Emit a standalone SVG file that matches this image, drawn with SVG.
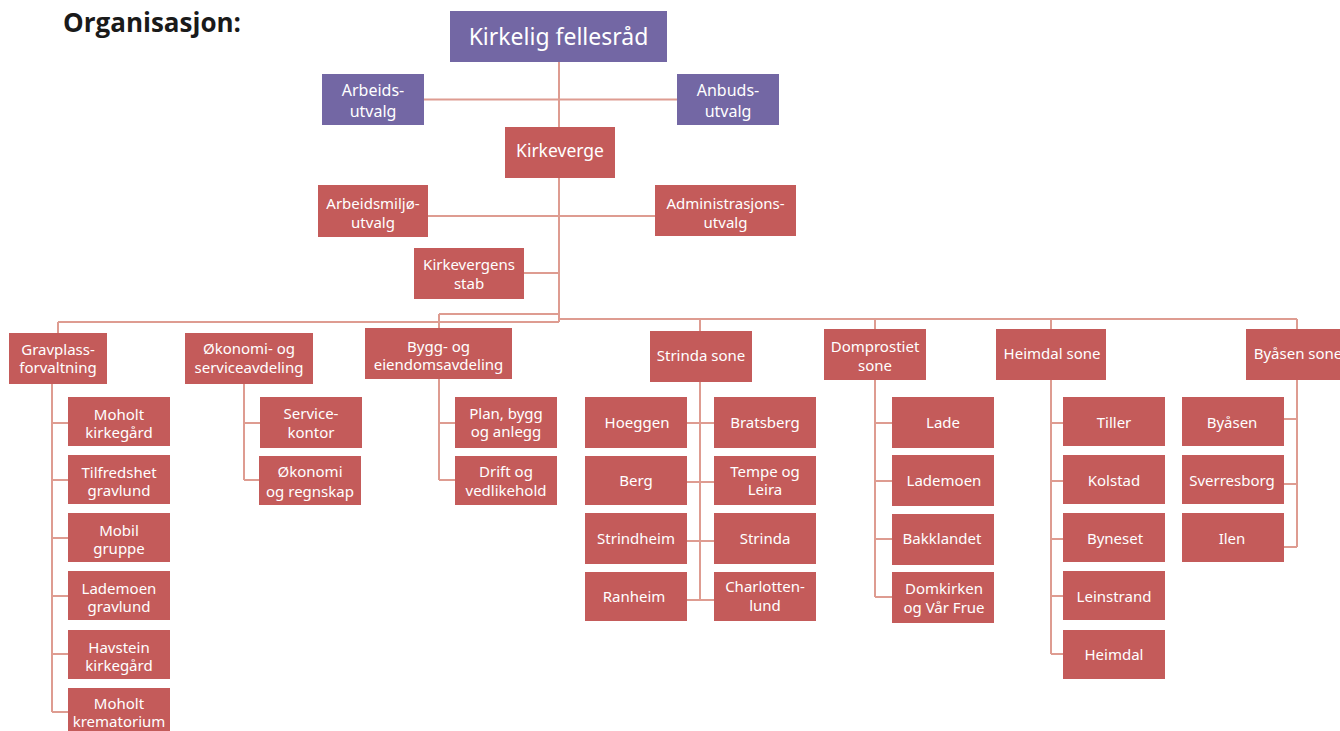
<svg xmlns="http://www.w3.org/2000/svg" width="1340" height="731" viewBox="0 0 1340 731">
<style>
.p{fill:#7367A4}
.r{fill:#C45B5A}
.t{fill:#FFFFFF;font-family:"Noto Sans","Open Sans",sans-serif;font-size:15px;text-anchor:middle}
.m{font-size:16px}
.c{stroke:#DE9C91;stroke-width:2;fill:none}
.h{font-family:"Open Sans","Noto Sans",sans-serif;font-weight:bold;font-size:26px;fill:#1a1a1a}
</style>
<rect width="1340" height="731" fill="#FFFFFF"/>
<text class="h" x="63" y="32">Organisasjon:</text>
<g id="connectors" class="c">
<path d="M559 62V322"/>
<path d="M424 99.5H677"/>
<path d="M428 216H655"/>
<path d="M524 273H559"/>
<path d="M58 322H559"/>
<path d="M58 322V333"/>
<path d="M439 314H559"/>
<path d="M439 314V328"/>
<path d="M559 319H1297"/>
<path d="M700 319V331"/>
<path d="M875 319V329"/>
<path d="M1051 319V329"/>
<path d="M1297 319V329"/>
<path d="M52 384V712M52 423H68M52 480H68M52 538H68M52 596H68M52 654H68M52 712H68"/>
<path d="M244 384V480M244 423H260M244 480H259"/>
<path d="M439 379V480M439 423H455M439 480H455"/>
<path d="M700 382V600M687 423H714M687 482H714M687 541H714M687 600H714"/>
<path d="M875 380V597M875 423H892M875 481H892M875 539H892M875 597H892"/>
<path d="M1051 380V654M1051 423H1063M1051 481H1063M1051 539H1063M1051 596H1063M1051 654H1063"/>
<path d="M1297 380V547M1284 419H1297M1284 484H1297M1284 547H1297"/>
</g>
<g id="n-fellesrad"><rect class="p" x="450" y="11" width="217" height="51"/><text class="t" x="558.5" y="45" style="font-size:23px">Kirkelig fellesråd</text></g>
<g id="n-arbeidsutvalg"><rect class="p" x="322" y="74" width="102" height="51"/><text class="t m" x="373" y="96">Arbeids-</text><text class="t m" x="373" y="117">utvalg</text></g>
<g id="n-anbudsutvalg"><rect class="p" x="677" y="74" width="102" height="51"/><text class="t m" x="728" y="96">Anbuds-</text><text class="t m" x="728" y="117">utvalg</text></g>
<g id="n-kirkeverge"><rect class="r" x="505" y="127" width="110" height="51"/><text class="t" x="560" y="157" style="font-size:17.5px">Kirkeverge</text></g>
<g id="n-amu"><rect class="r" x="318" y="185" width="110" height="52"/><text class="t" x="373" y="209">Arbeidsmiljø-</text><text class="t" x="373" y="228">utvalg</text></g>
<g id="n-adm"><rect class="r" x="655" y="185" width="141" height="51"/><text class="t" x="725.5" y="209">Administrasjons-</text><text class="t" x="725.5" y="228">utvalg</text></g>
<g id="n-stab"><rect class="r" x="414" y="248" width="110" height="51"/><text class="t" x="469" y="270">Kirkevergens</text><text class="t" x="469" y="289">stab</text></g>

<g id="n-gravplass"><rect class="r" x="9" y="333" width="98" height="51"/><text class="t" x="58" y="355">Gravplass-</text><text class="t" x="58" y="373">forvaltning</text></g>
<g id="n-gp1"><rect class="r" x="68" y="397" width="102" height="49"/><text class="t" x="119" y="420">Moholt</text><text class="t" x="119" y="438">kirkegård</text></g>
<g id="n-gp2"><rect class="r" x="68" y="455" width="102" height="49"/><text class="t" x="119" y="478">Tilfredshet</text><text class="t" x="119" y="496">gravlund</text></g>
<g id="n-gp3"><rect class="r" x="68" y="513" width="102" height="49"/><text class="t" x="119" y="536">Mobil</text><text class="t" x="119" y="554">gruppe</text></g>
<g id="n-gp4"><rect class="r" x="68" y="571" width="102" height="49"/><text class="t" x="119" y="594">Lademoen</text><text class="t" x="119" y="612">gravlund</text></g>
<g id="n-gp5"><rect class="r" x="68" y="630" width="102" height="49"/><text class="t" x="119" y="653">Havstein</text><text class="t" x="119" y="671">kirkegård</text></g>
<g id="n-gp6"><rect class="r" x="68" y="688" width="102" height="49"/><text class="t" x="119" y="709">Moholt</text><text class="t" x="119" y="727">krematorium</text></g>

<g id="n-okonomi"><rect class="r" x="185" y="333" width="128" height="51"/><text class="t" x="249" y="354">Økonomi- og</text><text class="t" x="249" y="373">serviceavdeling</text></g>
<g id="n-ok1"><rect class="r" x="260" y="397" width="102" height="51"/><text class="t" x="311" y="419">Service-</text><text class="t" x="311" y="438">kontor</text></g>
<g id="n-ok2"><rect class="r" x="259" y="456" width="102" height="49"/><text class="t" x="310" y="477">Økonomi</text><text class="t" x="310" y="497">og regnskap</text></g>

<g id="n-bygg"><rect class="r" x="365" y="328" width="147" height="51"/><text class="t" x="438.5" y="352">Bygg- og</text><text class="t" x="438.5" y="370">eiendomsavdeling</text></g>
<g id="n-by1"><rect class="r" x="455" y="397" width="102" height="51"/><text class="t" x="506" y="419">Plan, bygg</text><text class="t" x="506" y="437">og anlegg</text></g>
<g id="n-by2"><rect class="r" x="455" y="456" width="102" height="49"/><text class="t" x="506" y="477">Drift og</text><text class="t" x="506" y="496">vedlikehold</text></g>

<g id="n-strinda"><rect class="r" x="650" y="331" width="102" height="51"/><text class="t" x="701" y="361">Strinda sone</text></g>
<g id="n-st1"><rect class="r" x="585" y="397" width="102" height="51"/><text class="t" x="637" y="428">Hoeggen</text></g>
<g id="n-st2"><rect class="r" x="585" y="456" width="102" height="49"/><text class="t" x="636" y="486">Berg</text></g>
<g id="n-st3"><rect class="r" x="585" y="513" width="102" height="51"/><text class="t" x="636" y="544">Strindheim</text></g>
<g id="n-st4"><rect class="r" x="585" y="572" width="102" height="49"/><text class="t" x="634" y="602">Ranheim</text></g>
<g id="n-st5"><rect class="r" x="714" y="397" width="102" height="51"/><text class="t" x="765" y="428">Bratsberg</text></g>
<g id="n-st6"><rect class="r" x="714" y="456" width="102" height="49"/><text class="t" x="765" y="477">Tempe og</text><text class="t" x="765" y="495">Leira</text></g>
<g id="n-st7"><rect class="r" x="714" y="513" width="102" height="51"/><text class="t" x="765" y="544">Strinda</text></g>
<g id="n-st8"><rect class="r" x="714" y="572" width="102" height="49"/><text class="t" x="765" y="592">Charlotten-</text><text class="t" x="765" y="611">lund</text></g>

<g id="n-domprostiet"><rect class="r" x="824" y="329" width="102" height="51"/><text class="t" x="875" y="352">Domprostiet</text><text class="t" x="875" y="371">sone</text></g>
<g id="n-dp1"><rect class="r" x="892" y="397" width="102" height="51"/><text class="t" x="943" y="428">Lade</text></g>
<g id="n-dp2"><rect class="r" x="892" y="455" width="102" height="51"/><text class="t" x="944" y="486">Lademoen</text></g>
<g id="n-dp3"><rect class="r" x="892" y="514" width="102" height="51"/><text class="t" x="942" y="544">Bakklandet</text></g>
<g id="n-dp4"><rect class="r" x="892" y="572" width="102" height="51"/><text class="t" x="944" y="594">Domkirken</text><text class="t" x="944" y="613">og Vår Frue</text></g>

<g id="n-heimdal"><rect class="r" x="996" y="329" width="110" height="51"/><text class="t" x="1052" y="359">Heimdal sone</text></g>
<g id="n-hd1"><rect class="r" x="1063" y="397" width="102" height="49"/><text class="t" x="1114" y="428">Tiller</text></g>
<g id="n-hd2"><rect class="r" x="1063" y="455" width="102" height="49"/><text class="t" x="1114" y="486">Kolstad</text></g>
<g id="n-hd3"><rect class="r" x="1063" y="513" width="102" height="49"/><text class="t" x="1115" y="544">Byneset</text></g>
<g id="n-hd4"><rect class="r" x="1063" y="571" width="102" height="49"/><text class="t" x="1114" y="602">Leinstrand</text></g>
<g id="n-hd5"><rect class="r" x="1063" y="630" width="102" height="49"/><text class="t" x="1114" y="660">Heimdal</text></g>

<g id="n-byasen"><rect class="r" x="1246" y="329" width="104" height="51"/><text class="t" x="1298" y="359">Byåsen sone</text></g>
<g id="n-ba1"><rect class="r" x="1182" y="397" width="102" height="49"/><text class="t" x="1232" y="428">Byåsen</text></g>
<g id="n-ba2"><rect class="r" x="1182" y="455" width="102" height="49"/><text class="t" x="1232" y="486">Sverresborg</text></g>
<g id="n-ba3"><rect class="r" x="1182" y="513" width="102" height="49"/><text class="t" x="1232" y="544">Ilen</text></g>
</svg>
